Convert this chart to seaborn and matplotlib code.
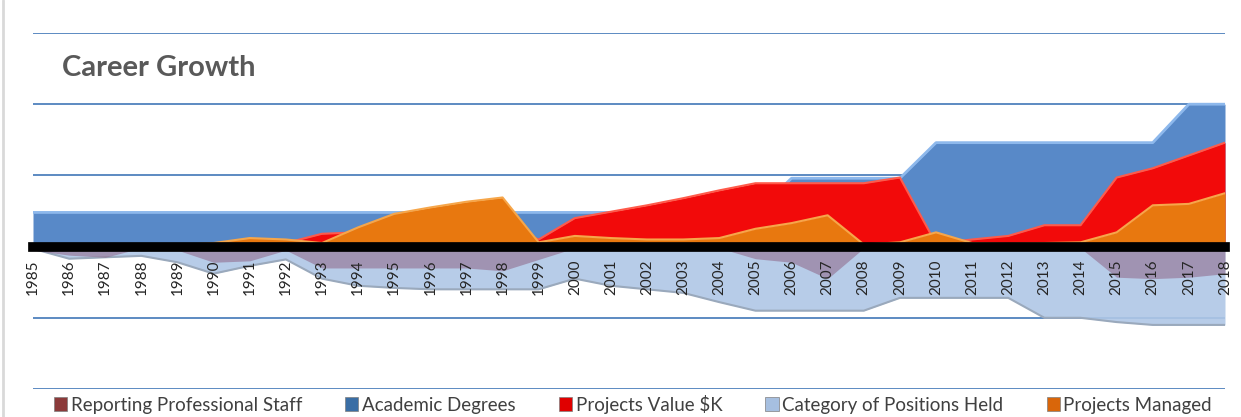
import numpy as np
import matplotlib
matplotlib.use('Agg')
import matplotlib.pyplot as plt
from matplotlib.patches import Patch
from matplotlib.lines import Line2D
import seaborn as sns

years = list(range(1985, 2019))

# values (axis units, gridlines at 1, 2, 3 ...)
academic_degrees = [0.48] * 21 + [0.96] * 4 + [1.46] * 7 + [2.0] * 2
projects_value = [0.02, 0.02, 0.03, 0.03, 0.02, 0.02, 0.03, 0.05, 0.18, 0.2,
                  0.25, 0.3, 0.3, 0.3, 0.1, 0.4, 0.49, 0.58, 0.68, 0.79,
                  0.89, 0.89, 0.89, 0.89, 0.97, 0.04, 0.1, 0.15, 0.3, 0.3,
                  0.97, 1.1, 1.28, 1.46]
projects_managed = [0.03, 0.03, 0.02, 0.02, 0.02, 0.05, 0.12, 0.1, 0.05, 0.27,
                    0.46, 0.55, 0.63, 0.69, 0.06, 0.15, 0.12, 0.1, 0.1, 0.12,
                    0.25, 0.33, 0.44, 0.03, 0.06, 0.2, 0.05, 0.04, 0.05, 0.06,
                    0.2, 0.58, 0.6, 0.75]
# below the zero line
positions_held = [-0.03, -0.17, -0.15, -0.13, -0.22, -0.38, -0.27, -0.18, -0.45, -0.55,
                  -0.58, -0.6, -0.6, -0.6, -0.6, -0.45, -0.55, -0.6, -0.65, -0.78,
                  -0.9, -0.9, -0.9, -0.9, -0.72, -0.72, -0.72, -0.72, -1.0, -1.0,
                  -1.06, -1.1, -1.1, -1.1]
professional_staff = [-0.05, -0.12, -0.15, -0.02, -0.05, -0.22, -0.2, -0.05, -0.3, -0.3,
                      -0.3, -0.3, -0.3, -0.34, -0.18, -0.02, -0.02, -0.02, -0.02, -0.02,
                      -0.17, -0.22, -0.45, -0.02, -0.02, -0.02, -0.02, -0.02, -0.02, -0.02,
                      -0.43, -0.45, -0.43, -0.38]

labels = ['Reporting Professional Staff', 'Academic Degrees', 'Projects Value $K',
          'Category of Positions Held', 'Projects Managed']

sns.set_theme(style='white')
plt.rcParams['font.family'] = ['Lato', 'DejaVu Sans']

fig = plt.figure(figsize=(12.41, 4.17), dpi=100)
ax = fig.add_axes([33/1241, 28/417, 1192/1241, 356/417])

# blue gridlines
for g in [-2, -1, 1, 2, 3]:
    ax.axhline(g, color='#4F81BD', lw=1.3, zorder=0)

# positive side, back to front
ax.fill_between(years, 0, academic_degrees, color='#5889C8', lw=0, zorder=1)
sns.lineplot(x=years, y=academic_degrees, color='#8DB8EC', lw=2, ax=ax, zorder=1.1)
ax.fill_between(years, 0, projects_value, color='#F20A0A', lw=0, zorder=2)
sns.lineplot(x=years, y=projects_value, color='#FF5A4A', lw=1.5, ax=ax, zorder=2.1)
ax.fill_between(years, 0, projects_managed, color='#E8780F', lw=0, zorder=3)
sns.lineplot(x=years, y=projects_managed, color='#F6A64A', lw=1.5, ax=ax, zorder=3.1)

# negative side
ax.fill_between(years, 0, positions_held, color='#AFC7E6', alpha=0.9, lw=0, zorder=1)
sns.lineplot(x=years, y=positions_held, color='#9AA9BC', lw=1.5, ax=ax, zorder=1.1)
ax.fill_between(years, 0, professional_staff, color='#8E6486', alpha=0.55, lw=0, zorder=2)

ax.set_xlim(1985, 2018)
ax.set_ylim(-2, 3)
ax.set_yticks([])
ax.set_xticks(years)
ax.set_xticklabels([str(y) for y in years], fontsize=11.5, color='black')
ax.tick_params(axis='x', length=0, pad=9, labelrotation=90)
ax.set_xlabel('')
ax.set_ylabel('')
for s in ['left', 'right', 'top']:
    ax.spines[s].set_visible(False)
ax.spines['bottom'].set_position(('data', 0))
ax.spines['bottom'].set_color('black')
ax.spines['bottom'].set_linewidth(7)
ax.spines['bottom'].set_zorder(5)
ax.xaxis.set_zorder(6)
ax.patch.set_alpha(0)

fig.text(62/1241, 1 - 68/417, 'Career Growth', fontsize=21, fontweight='bold',
         color='#595959', va='center', ha='left')

# chart border on the left
fig.add_artist(Line2D([3/1241, 3/1241], [0, 1], color='#D9D9D9', lw=2))

colors = ['#8B3A3A', '#3A6EA5', '#E00000', '#A6BFE0', '#D9660A']
handles = [Patch(facecolor=c, edgecolor='#7F7F7F', lw=0.5) for c in colors]
fig.legend(handles, labels, loc='center', bbox_to_anchor=(0.51, 1 - 404/417), ncol=5,
           frameon=False, fontsize=13.5, handlelength=0.7, handleheight=0.8,
           handletextpad=0.2, columnspacing=2.3, labelcolor='#404040')

fig.savefig('out.png', dpi=100)
